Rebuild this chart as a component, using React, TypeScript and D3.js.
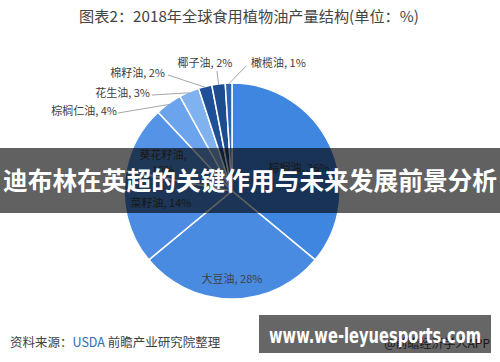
import * as d3 from "d3";
import React from "react";

// values
const oils = ["棕榈油", "大豆油", "菜籽油", "葵花籽油", "棕榈仁油", "花生油", "棉籽油", "椰子油", "橄榄油"];
const shares = [36, 28, 14, 10, 4, 3, 2, 2, 1];
const colors = ["#3f86e0", "#4a8be2", "#4c8de3", "#5593e6", "#6ba3ec", "#80b2f0", "#1f4f96", "#1d4c8f", "#2c63b4"];

const W = 500;
const H = 362;
const cx = 232;
const cy = 191;
const R = 108;
const font = "'Noto Sans CJK SC', 'Noto Sans', sans-serif";

// label placement (inside labels: centre; outside labels: text anchor point)
const inside: any = {
  0: { x: 299, y: 168 },
  1: { x: 232, y: 279 },
  2: { x: 161, y: 203 },
  3: { x: 163, y: 155, wrap: true },
};
const outside: any = {
  4: { tx: 117, ty: 111, elbow: [118, 113], anchor: "end" },
  5: { tx: 150, ty: 93, elbow: [152, 95], anchor: "end" },
  6: { tx: 165, ty: 73, elbow: [168, 75], anchor: "end" },
  7: { tx: 205, ty: 63, elbow: [217, 71], anchor: "middle" },
  8: { tx: 251, ty: 63, elbow: [246, 66], anchor: "start" },
};

export default function App() {
  const pie = d3.pie<number>().sort(null).value((d) => d);
  const arcs = pie(shares);
  const arc = d3.arc<any>().innerRadius(0).outerRadius(R);

  return (
    <svg width={W} height={H} style={{ position: "absolute", left: 0, top: 0, background: "#fff" }}>
      <text x={249} y={22} textAnchor="middle" fontSize={15.2} fill="#444" fontFamily={font}>
        图表2：2018年全球食用植物油产量结构(单位：%)
      </text>

      <g transform={`translate(${cx},${cy})`}>
        {arcs.map((a, i) => (
          <path key={i} d={arc(a) as string} fill={colors[i]} stroke="#fff" strokeWidth={1.5} />
        ))}
      </g>

      {arcs.map((a, i) => {
        const lab = `${oils[i]}, ${shares[i]}%`;
        if (inside[i]) {
          const p = inside[i];
          if (p.wrap) {
            return (
              <text key={i} x={p.x} y={p.y} textAnchor="middle" fontSize={11} fill="#404040" fontFamily={font}>
                <tspan x={p.x} dy="0.35em">{oils[i]},</tspan>
                <tspan x={p.x} dy="1.35em">{shares[i]}%</tspan>
              </text>
            );
          }
          return (
            <text key={i} x={p.x} y={p.y} dy="0.35em" textAnchor="middle" fontSize={11} fill="#404040" fontFamily={font}>
              {lab}
            </text>
          );
        }
        const o = outside[i];
        const mid = (a.startAngle + a.endAngle) / 2;
        const sx = cx + (R - 1) * Math.sin(mid);
        const sy = cy - (R - 1) * Math.cos(mid);
        return (
          <g key={i}>
            <polyline
              points={`${sx},${sy} ${o.elbow[0]},${o.elbow[1]}`}
              fill="none"
              stroke="#a6a6a6"
              strokeWidth={1}
            />
            <text x={o.tx} y={o.ty} dy="0.35em" textAnchor={o.anchor} fontSize={11} fill="#404040" fontFamily={font}>
              {lab}
            </text>
          </g>
        );
      })}

      <text x={10} y={347} fontSize={12.5} fill="#404040" fontFamily={font}>
        资料来源：<tspan fill="#2f6cb5">USDA</tspan> 前瞻产业研究院整理
      </text>
      <text x={490} y={348} textAnchor="end" fontSize={12} fill="#404040" fontFamily={font}>
        @前瞻经济学人APP
      </text>

      {/* overlay banner */}
      <rect x={0} y={148} width={W} height={65} fill="#000" opacity={0.62} />
      <text
        x={250}
        y={181}
        dy="0.35em"
        textAnchor="middle"
        fontSize={25}
        fontWeight="bold"
        fill="#fff"
        fontFamily={font}
        textLength={494}
        lengthAdjust="spacingAndGlyphs"
      >
        迪布林在英超的关键作用与未来发展前景分析
      </text>

      <rect x={259} y={315} width={232} height={38} fill="#000" opacity={0.6} />
      <text x={375} y={336} dy="0.35em" textAnchor="middle" fontSize={21} fontWeight="bold" fill="#fff" fontFamily="'DejaVu Sans', sans-serif" textLength={212} lengthAdjust="spacingAndGlyphs">
        www.we-leyuesports.com
      </text>
    </svg>
  );
}
